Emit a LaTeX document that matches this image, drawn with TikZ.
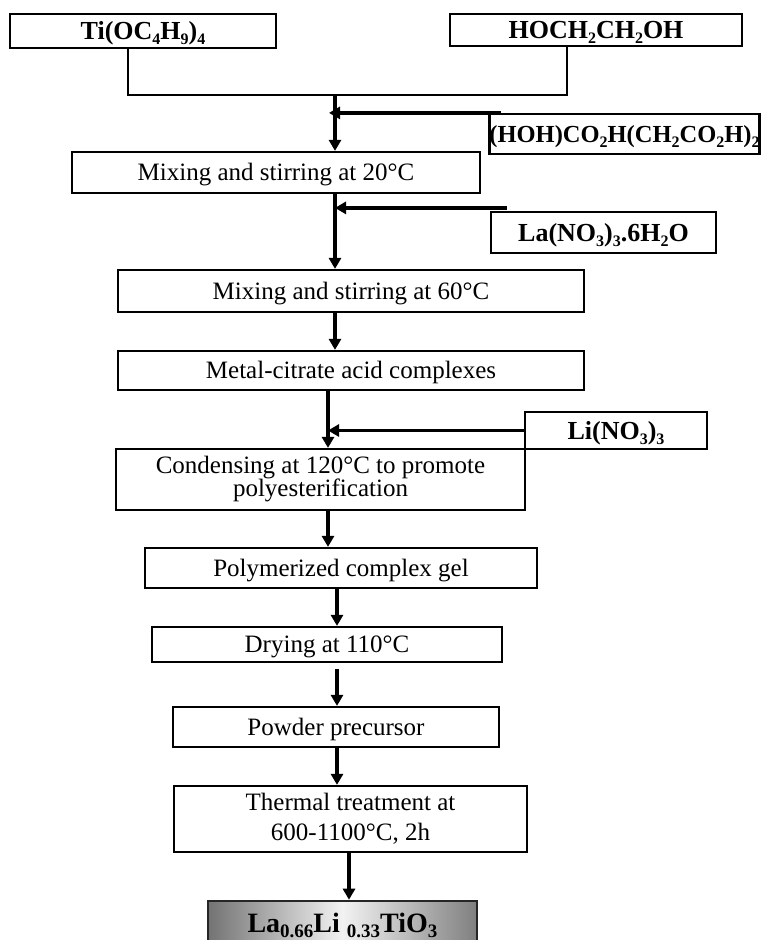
\documentclass[tikz,border=0pt]{standalone}
\usepackage{fontspec}
\setmainfont{Liberation Serif}
\usetikzlibrary{arrows.meta}
\newcommand{\sbs}[1]{\raisebox{-0.45ex}{\fontsize{16}{16}\selectfont #1}}
\newcommand{\bigsub}[1]{\raisebox{-0.4ex}{\fontsize{19}{19}\selectfont #1}}
\tikzset{
  box/.style={draw, line width=2.2pt, inner sep=0pt, align=center,
    font=\fontsize{25}{25}\selectfont},
  oneline/.style={text height=16.5pt, text depth=0pt},
  chem/.style={box, font=\fontsize{26}{26}\selectfont\bfseries, text height=17pt, text depth=0pt},
  conn/.style={line width=3.5pt, -{Triangle[width=12pt,length=11pt]}},
  link/.style={line width=2.5pt},
}
\begin{document}
\begin{tikzpicture}[x=1pt,y=-1pt]
\clip (0,0) rectangle (762,940);
\fill[white] (0,0) rectangle (762,940);

% nodes
\node[chem, minimum width=266pt, minimum height=34pt] (ti) at (143,31) {Ti(OC\sbs{4}H\sbs{9})\sbs{4}};
\node[chem, minimum width=292pt, minimum height=32pt] (hoch) at (596,30) {HOCH\sbs{2}CH\sbs{2}OH};
\node[chem, minimum width=269pt, minimum height=40pt, font=\fontsize{24.5}{25}\selectfont\bfseries] (hoh) at (624.5,134) {(HOH)CO\sbs{2}H(CH\sbs{2}CO\sbs{2}H)\sbs{2}};
\node[box, oneline, minimum width=408pt, minimum height=41pt] (mix20) at (276,172.5) {Mixing and stirring at 20°C};
\node[chem, minimum width=225pt, minimum height=41pt] (la) at (603.5,232.5) {La(NO\sbs{3})\sbs{3}.6H\sbs{2}O};
\node[box, oneline, minimum width=466pt, minimum height=42pt] (mix60) at (351,291) {Mixing and stirring at 60°C};
\node[box, oneline, minimum width=466pt, minimum height=39pt] (metal) at (351,370.5) {Metal-citrate acid complexes};
\node[chem, minimum width=182pt, minimum height=37pt] (li) at (616,430.5) {Li(NO\sbs{3})\sbs{3}};
\node[box, minimum width=409pt, minimum height=61pt, font=\fontsize{25}{23}\selectfont] (cond) at (320.5,479.5) {Condensing at 120°C to promote\\polyesterification};
\node[box, oneline, minimum width=392pt, minimum height=40pt] (poly) at (341,568) {Polymerized complex gel};
\node[box, oneline, minimum width=350pt, minimum height=35pt] (dry) at (327,644.5) {Drying at 110°C};
\node[box, oneline, minimum width=326pt, minimum height=40pt] (powder) at (336,727) {Powder precursor};
\node[box, minimum width=353pt, minimum height=66pt, font=\fontsize{25}{30}\selectfont] (thermal) at (350.5,819) {Thermal treatment at\\600-1100°C, 2h};
\node[chem, minimum width=269pt, minimum height=44pt, draw=black!85, line width=2.6pt,
      font=\fontsize{28}{28}\selectfont\bfseries, text height=18pt,
      left color=black!55, right color=black!50, middle color=black!5] (final) at (342.5,923)
      {La\bigsub{0.66}Li \bigsub{0.33}TiO\bigsub{3}};

% coordinates for connector columns
\coordinate (j1) at (128,95);
\coordinate (j2) at (567,95);
\coordinate (top) at (335,95);
\coordinate (v2) at (328,0);
\coordinate (v3) at (337,0);
\coordinate (v4) at (349,0);

% top joining line
\draw[link] (ti.south -| j1) |- (j2) -- (hoch.south -| j2);

% main flow
\draw[conn] (top) -- (top |- mix20.north);
\coordinate (hs) at ([xshift=13pt]hoh.north west);
\coordinate (he) at ([xshift=-6pt]hs -| top);
\draw[conn] (hs) -- (he);

\draw[conn] (top |- mix20.south) -- (top |- mix60.north);
\coordinate (ls) at ([xshift=17pt,yshift=3pt]la.north west);
\draw[conn] (ls) -- (ls -| top);

\draw[conn] (top |- mix60.south) -- (top |- metal.north);
\draw[conn] (v2 |- metal.south) -- (v2 |- cond.north);
\draw[conn] (li.west) -- (li.west -| v2);
\draw[conn] (v2 |- cond.south) -- (v2 |- poly.north);
\draw[conn] (v3 |- poly.south) -- (v3 |- dry.north);
\coordinate (d1) at (v3 |- dry.south);
\draw[conn] ([yshift=-6pt]d1) -- (v3 |- powder.north);
\draw[conn] (v3 |- powder.south) -- (v3 |- thermal.north);
\draw[conn] (v4 |- thermal.south) -- (v4 |- final.north);
\end{tikzpicture}
\end{document}
